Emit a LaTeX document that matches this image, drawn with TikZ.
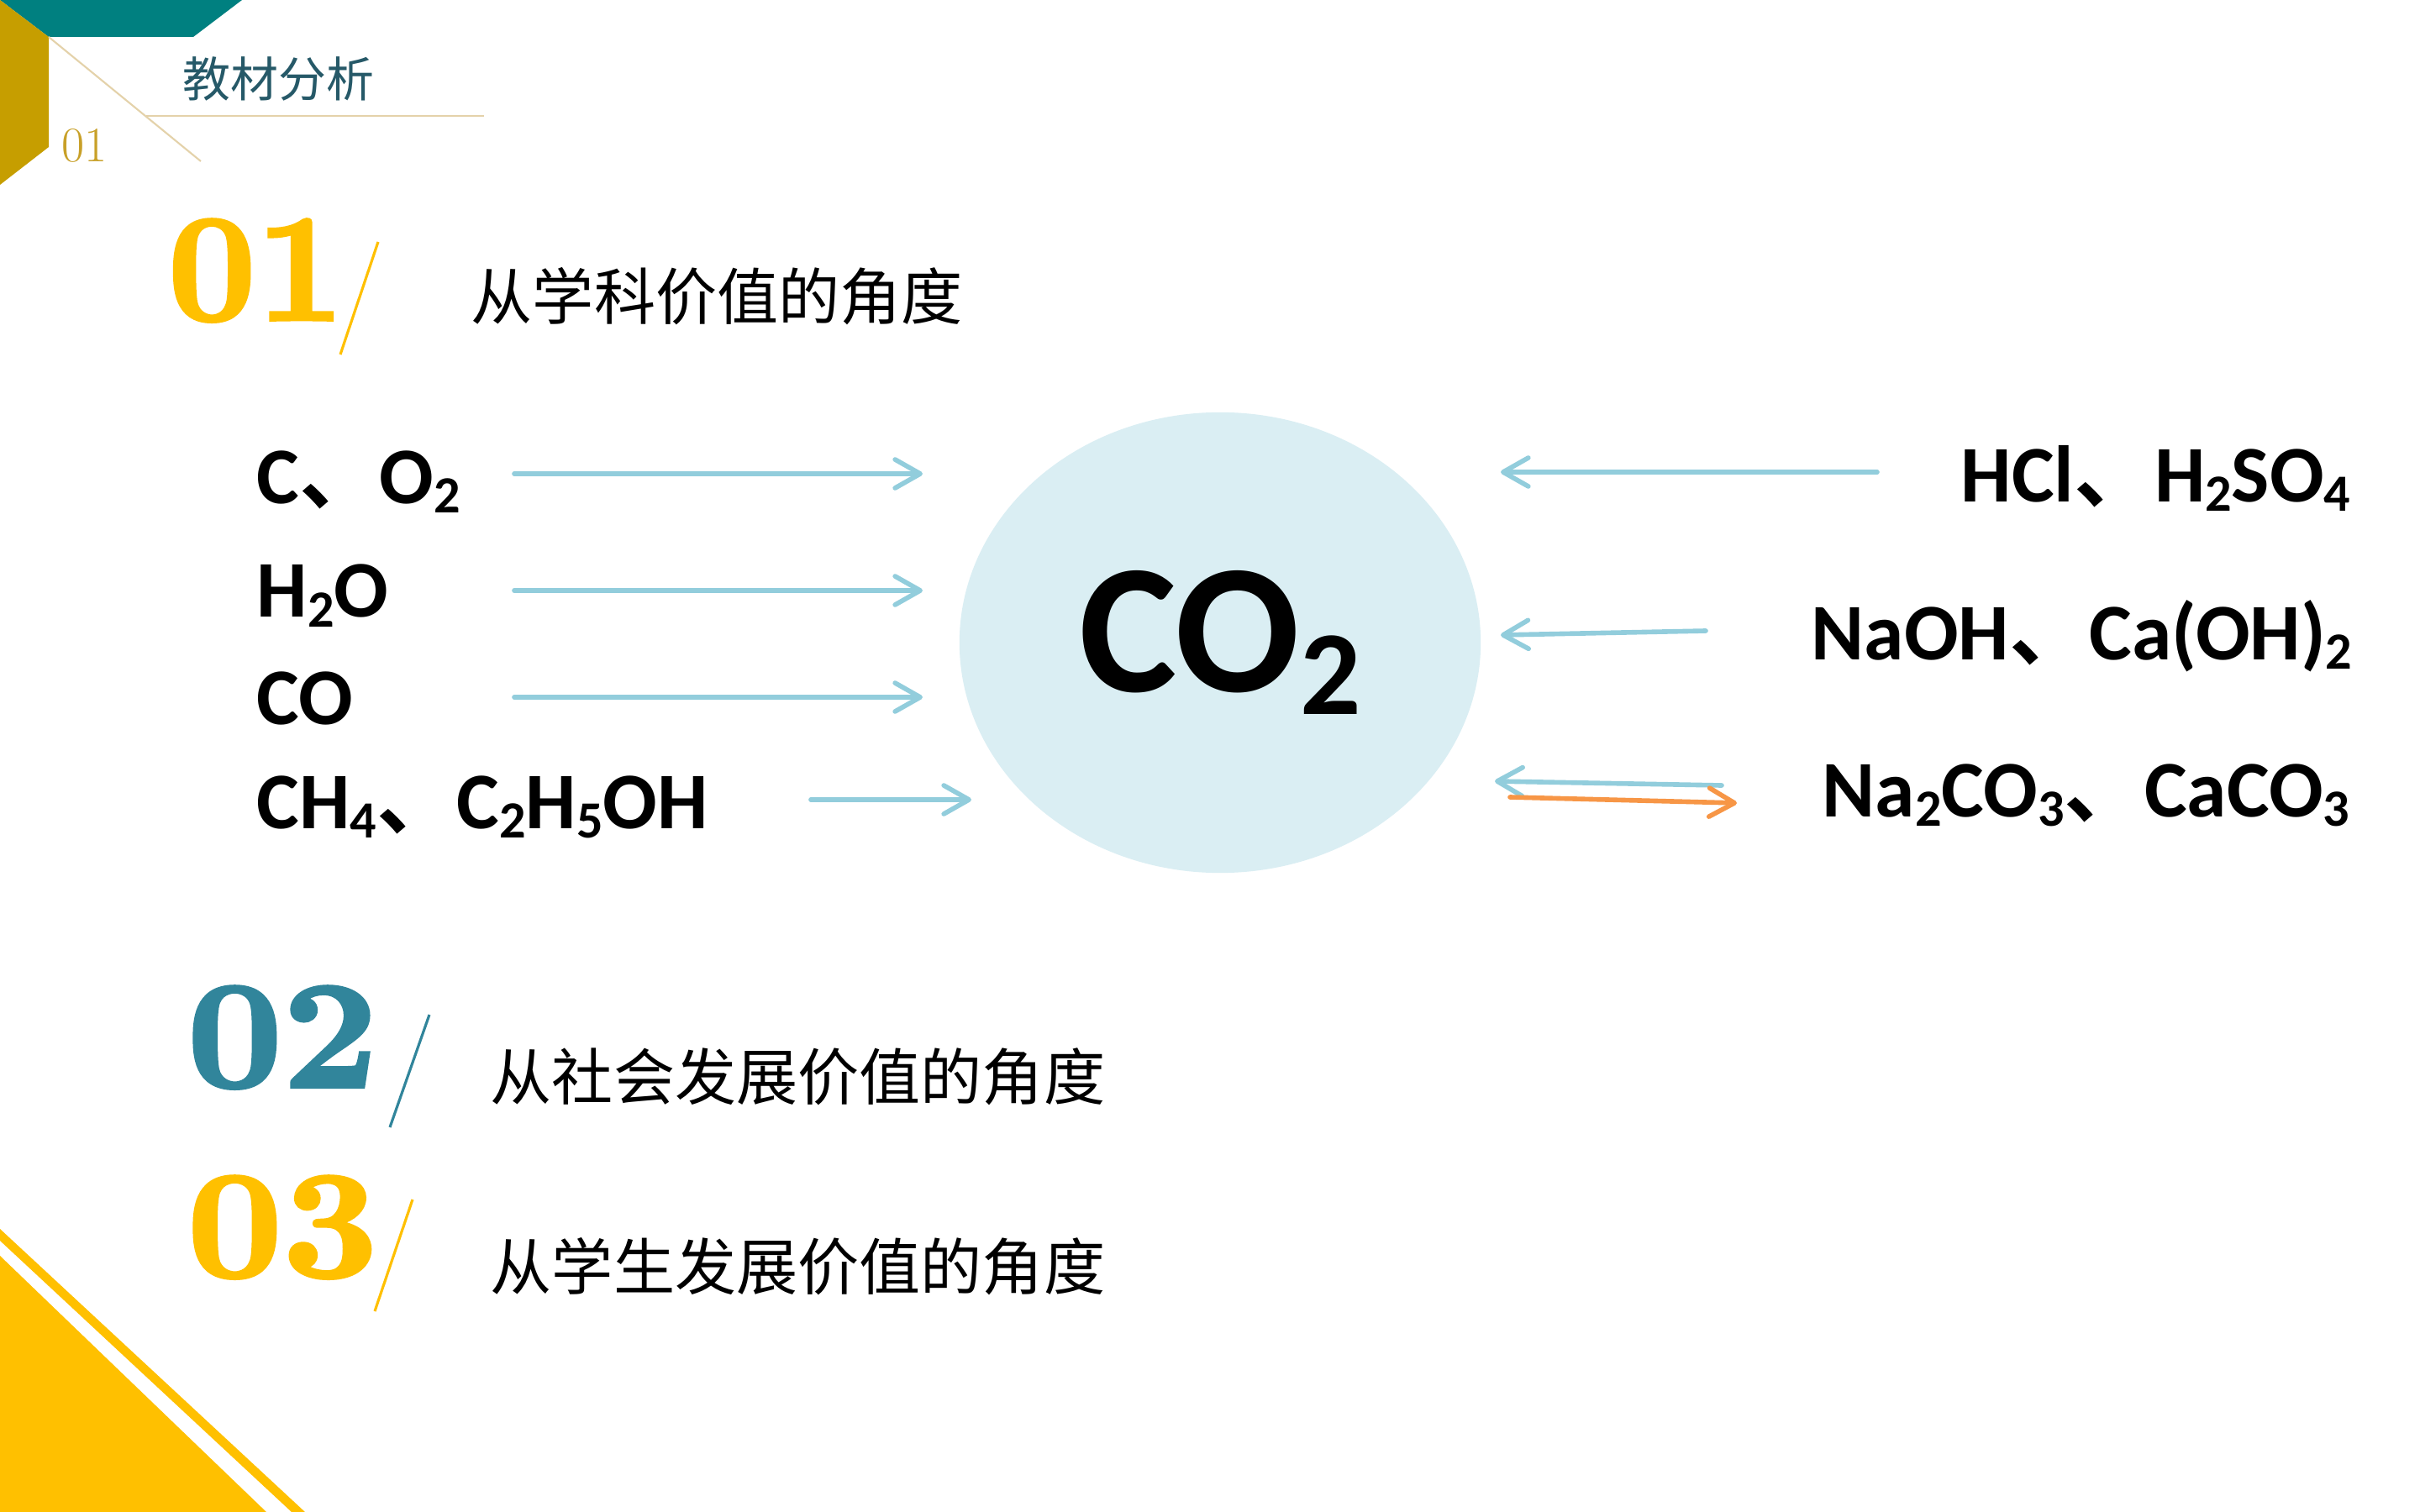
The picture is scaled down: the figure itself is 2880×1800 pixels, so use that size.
\documentclass[tikz,border=0pt]{standalone}
\usepackage{fontspec}
\usepackage{tikz}
\usetikzlibrary{arrows.meta, positioning, shapes.geometric}

\newfontfamily\calib{Carlito}
\newfontfamily\cjk{Noto Sans CJK SC}[BoldFont={Noto Sans CJK SC Bold}]
\newfontfamily\fatnum{lmroman10-bold}[Extension=.otf, FakeBold=2.2]

\definecolor{gold}{RGB}{255,192,0}
\definecolor{darkgold}{RGB}{198,158,0}
\definecolor{smallgold}{RGB}{200,160,40}
\definecolor{bandteal}{RGB}{0,128,128}
\definecolor{numteal}{RGB}{49,133,155}
\definecolor{titleteal}{RGB}{38,89,104}
\definecolor{tan}{RGB}{228,210,170}
\definecolor{co2fill}{RGB}{218,238,243}
\definecolor{arrowblue}{RGB}{146,205,220}
\definecolor{arroworange}{RGB}{247,150,70}

\newcommand{\csub}[1]{\raisebox{-0.12em}{\scalebox{0.65}{#1}}}
\newcommand{\dun}{{\cjk\bfseries 、}}

\begin{document}
\begin{tikzpicture}[x=0.01cm, y=-0.01cm,
    formula/.style={font=\calib\bfseries\fontsize{27.2}{30}\selectfont, inner sep=0pt},
    heading/.style={font=\cjk\fontsize{20.8}{24}\selectfont, anchor=west, inner sep=0pt},
    bignum/.style={font=\fatnum\fontsize{52}{56}\selectfont, anchor=base west, inner sep=0pt},
    slash/.style={line width=0.9pt},
    flow/.style={line width=1.6pt, line cap=round, -{Straight Barb[length=0.3cm, width=0.34cm, round]}}
]
\useasboundingbox (0,0) rectangle (2880,1800);
\fill[white] (0,0) rectangle (2880,1800);

% Corner decorations
\fill[bandteal] (0,0) -- (288,0) -- (230,44) -- (58,44) -- cycle;
\fill[darkgold] (0,0) -- (58,44) -- (58,175) -- (0,220) -- cycle;
\draw[tan, line width=0.6pt] (58,44) -- (239,192);
\draw[tan, line width=0.6pt] (174,138) -- (576,138);
\node[font=\cjk\fontsize{16.2}{18}\selectfont, text=titleteal, anchor=west, inner sep=0pt] (title) at (217,94) {教材分析};
\node[font=\fontsize{16.8}{18}\selectfont, text=smallgold, anchor=base west, inner sep=0pt] (tnum) at (73,193) {01};

\fill[gold] (0,1463) -- (0,1477) -- (347,1800) -- (363,1800) -- cycle;
\fill[gold] (0,1495) -- (0,1800) -- (317,1800) -- cycle;

% Headings
\node[bignum, text=gold] (n1) at (199,381) {01};
\draw[slash, gold] (450,288) -- (405,422);
\node[heading] (h1) at (560,353) {从学科价值的角度};

\node[bignum, text=numteal] (n2) at (222,1294) {\scalebox{1.08}[1]{02}};
\draw[slash, numteal] (511,1208) -- (464,1342);
\node[heading] (h2) at (583,1282) {从社会发展价值的角度};

\node[bignum, text=gold] (n3) at (222,1520) {\scalebox{1.08}[1]{03}};
\draw[slash, gold] (491,1428) -- (446,1561);
\node[heading] (h3) at (583,1508) {从学生发展价值的角度};

% Centre
\node[ellipse, fill=co2fill, minimum width=6.2cm, minimum height=5.48cm, inner sep=0pt,
      font=\calib\bfseries\fontsize{62.5}{70}\selectfont] (co2) at (1452,765) {CO\csub{2}};

% Left side: sources
\foreach \i/\y/\txt in {1/599/{C\dun O\csub{2}}, 2/735/{H\csub{2}O}, 3/862/{CO}, 4/986/{CH\csub{4}\dun C\csub{2}H\csub{5}OH}} {
    \node[formula, anchor=base west] (src\i) at (305,\y) {\txt};
}
\foreach \i/\y/\xa/\xb in {1/564/612/1098, 2/703/612/1098, 3/830/612/1098, 4/952/965/1156} {
    \coordinate (ina\i) at (\xa,\y);
    \coordinate (inb\i) at (\xb,\y);
    \draw[flow, arrowblue] (ina\i) -- (inb\i);
}

% Right side: reactants
\node[formula, anchor=base east] (dst1) at (2798,597) {HCl\dun H\csub{2}SO\csub{4}};
\node[formula, anchor=base east] (dst2) at (2800,785) {NaOH\dun Ca(OH)\csub{2}};
\node[formula, anchor=base east] (dst3) at (2797,972) {Na\csub{2}CO\csub{3}\dun CaCO\csub{3}};

\coordinate (outa1) at (2234,562);
\coordinate (outb1) at (1786,562);
\coordinate (outa2) at (2030,751);
\coordinate (outb2) at (1786,756);
\coordinate (outa3) at (2049,935);
\coordinate (outb3) at (1779,930);
\coordinate (backa) at (1797,949);
\coordinate (backb) at (2067,956);
\foreach \i in {1,2,3} {
    \draw[flow, arrowblue] (outa\i) -- (outb\i);
}
\draw[flow, arroworange] (backa) -- (backb);

\end{tikzpicture}
\end{document}
